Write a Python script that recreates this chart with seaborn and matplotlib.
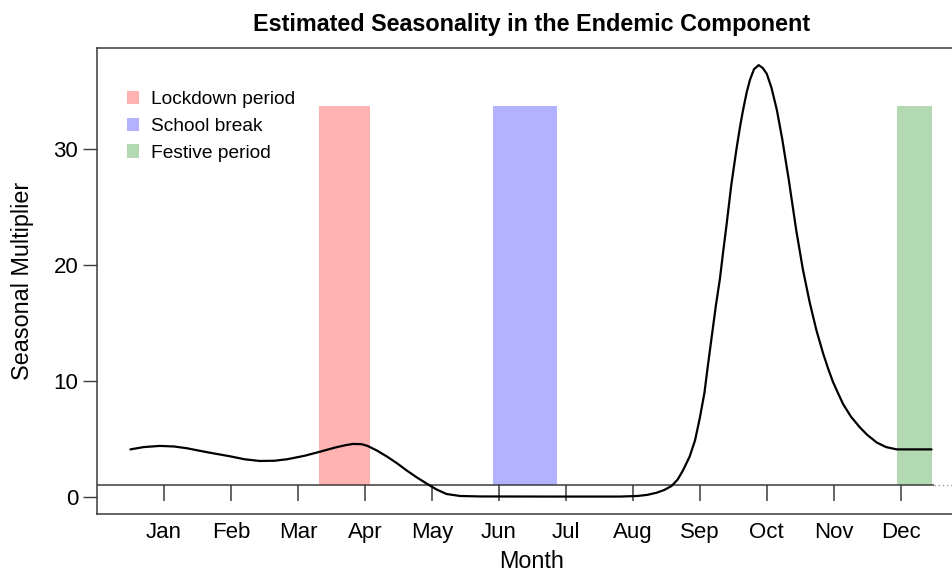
import matplotlib
matplotlib.use("Agg")
import matplotlib.pyplot as plt
from matplotlib.patches import Patch
import seaborn as sns
import pandas as pd

# Seasonal multiplier of the endemic component, x in months since 1 January
month_pos = [0.00, 0.20, 0.44, 0.65, 0.84, 1.15, 1.49, 1.70, 1.93, 2.15, 2.34,
             2.60, 2.83, 3.05, 3.20, 3.32, 3.45, 3.54, 3.68, 3.83, 3.98, 4.12,
             4.27, 4.42, 4.57, 4.72, 4.92, 5.22, 6.26, 7.31, 7.57, 7.72, 7.86,
             7.97, 8.08, 8.17, 8.25, 8.35, 8.43, 8.50, 8.57, 8.62, 8.68, 8.74,
             8.80, 8.85, 8.90, 8.97, 9.05, 9.10, 9.14, 9.20, 9.25, 9.31, 9.38,
             9.44, 9.50, 9.57, 9.65, 9.73, 9.83, 9.94, 10.04, 10.14, 10.24, 10.34,
             10.42, 10.49, 10.56, 10.64, 10.76, 10.89, 11.00, 11.14, 11.28, 11.44,
             11.96]
multiplier = [4.10, 4.30, 4.40, 4.35, 4.20, 3.85, 3.50, 3.25, 3.10, 3.12, 3.25,
              3.55, 3.90, 4.25, 4.45, 4.57, 4.55, 4.40, 4.00, 3.48, 2.90, 2.30,
              1.70, 1.16, 0.64, 0.25, 0.08, 0.04, 0.03, 0.03, 0.08, 0.18, 0.37,
              0.60, 0.95, 1.50, 2.30, 3.50, 4.90, 6.80, 9.00, 11.30, 13.90, 16.50,
              18.80, 21.20, 23.50, 26.90, 30.10, 31.90, 33.20, 34.90, 36.00, 36.90, 37.25,
              37.00, 36.50, 35.30, 33.40, 30.90, 27.30, 23.00, 19.60, 16.80, 14.40, 12.40,
              11.00, 9.90, 9.00, 8.00, 6.90, 6.00, 5.35, 4.70, 4.30, 4.10,
              4.10]

# Shaded periods (start / end in months)
period_names = ["Lockdown period", "School break", "Festive period"]
period_start = [2.81, 5.41, 11.44]
period_end = [3.57, 6.37, 11.96]
period_colors = ["#FFB2B2", "#B2B2FF", "#B2D9B2"]
band_low, band_high = 1.0, 33.7

month_labels = ["Jan", "Feb", "Mar", "Apr", "May", "Jun",
                "Jul", "Aug", "Sep", "Oct", "Nov", "Dec"]
month_ticks = [i + 0.5 for i in range(12)]
y_ticks = [0, 10, 20, 30]

sns.set_theme(style="white")
plt.rcParams["font.family"] = ["Liberation Sans", "DejaVu Sans"]
plt.rcParams["text.color"] = "black"
plt.rcParams["axes.labelcolor"] = "black"
plt.rcParams["xtick.color"] = "black"
plt.rcParams["ytick.color"] = "black"

axis_col = "#3a3a3a"
fig = plt.figure(figsize=(9.52, 5.71), dpi=100)
ax = fig.add_axes([0.1022, 0.0993, 0.9129, 0.8161])

# shaded bands
for s, e, c in zip(period_start, period_end, period_colors):
    ax.bar(s, band_high - band_low, width=e - s, bottom=band_low, align="edge",
           color=c, edgecolor="none", zorder=1)

df = pd.DataFrame({"Month": month_pos, "Multiplier": multiplier})
sns.lineplot(data=df, x="Month", y="Multiplier", color="black", linewidth=1.6,
             ax=ax, zorder=3)

xmin, xmax = -0.495, 12.48
ax.set_xlim(xmin, xmax)
ax.set_ylim(-1.5, 38.7)

# reference line at 1 with month ticks hanging from it
ax.hlines(1, xmin, 12.0, color=axis_col, linewidth=1.1, zorder=2)
ax.hlines(1, 12.0, xmax, color="#9a9a9a", linewidth=1.0, linestyles=(0, (1, 2)), zorder=2)
ax.vlines(month_ticks, -0.33, 1, color=axis_col, linewidth=1.1, zorder=2)

ax.set_xticks(month_ticks)
ax.set_xticklabels(month_labels)
ax.set_yticks(y_ticks)
ax.tick_params(axis="x", length=0, pad=5.4, labelsize=16, labelcolor="black")
ax.tick_params(axis="y", left=True, length=10.3, width=1.0, color=axis_col,
               pad=3.4, labelsize=16, labelcolor="black")

for side in ["left", "top", "bottom"]:
    ax.spines[side].set_visible(True)
    ax.spines[side].set_color(axis_col)
    ax.spines[side].set_linewidth(1.1)
ax.spines["right"].set_visible(False)

ax.set_xlabel("Month", fontsize=16.8, color="black")
ax.xaxis.set_label_coords(0.5, -0.0765)
ax.set_ylabel("Seasonal Multiplier", fontsize=16.8, va="center", color="black")
ax.yaxis.set_label_coords(-0.0861, 0.5)
ax.set_title("Estimated Seasonality in the Endemic Component",
             fontsize=16.8, fontweight="bold", pad=12.5, color="black")

handles = [Patch(facecolor=c, edgecolor="none") for c in period_colors]
ax.legend(handles, period_names, loc="upper left", bbox_to_anchor=(0.0338, 0.9085),
          frameon=False, fontsize=13.8, handlelength=0.66, handleheight=0.7,
          handletextpad=0.6, labelspacing=0.48, borderpad=0, borderaxespad=0)

fig.savefig("out.png", dpi=100)
